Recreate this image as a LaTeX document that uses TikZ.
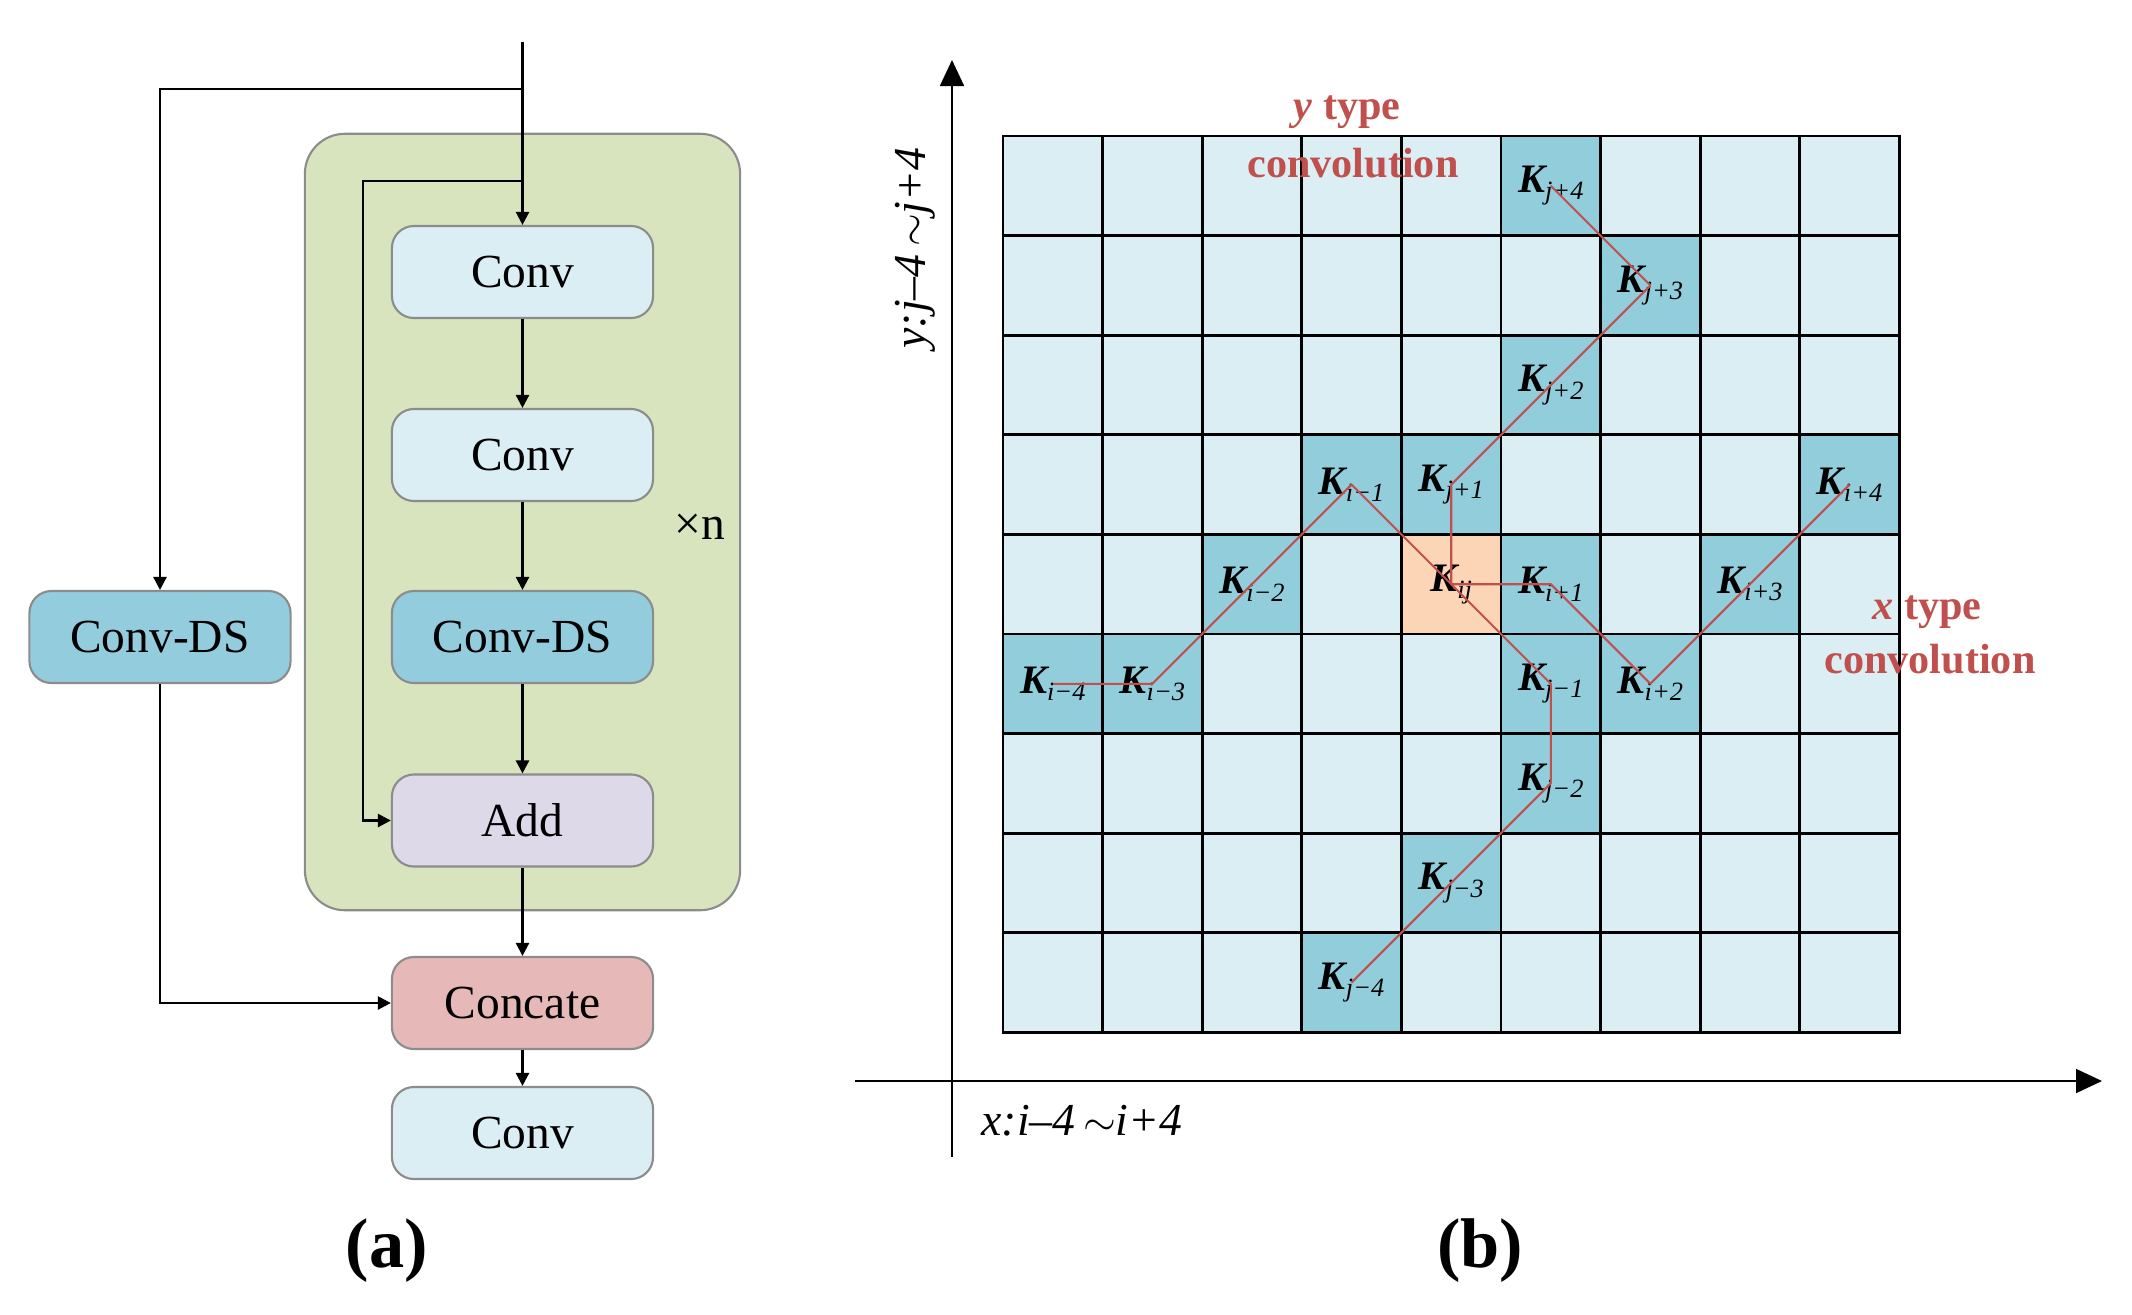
\documentclass[tikz,border=0pt]{standalone}
\usepackage{fontspec}
\setmainfont{Liberation Serif}
\usetikzlibrary{arrows.meta}
\definecolor{convL}{HTML}{DAEEF3}
\definecolor{convD}{HTML}{93CDDD}
\definecolor{addC}{HTML}{DDD9E9}
\definecolor{catC}{HTML}{E6B9B8}
\definecolor{grnC}{HTML}{D7E4BD}
\definecolor{bordC}{HTML}{8C8C8C}
\definecolor{cellL}{HTML}{DAEEF3}
\definecolor{cellD}{HTML}{92CDDC}
\definecolor{cellC}{HTML}{FBD5B5}
\definecolor{redC}{HTML}{C0504D}
\newcommand{\Kl}[1]{{\fontsize{11.5}{12}\selectfont\bfseries\itshape K}\raisebox{-0.45ex}{\fontsize{7.5}{8}\selectfont\itshape #1}}
\begin{document}
\begin{tikzpicture}[x=0.01cm,y=-0.01cm,
  blk/.style={draw=bordC, line width=0.6pt, rounded corners=0.22cm, minimum width=2.61cm, minimum height=0.92cm, inner sep=0pt, font=\fontsize{13.5}{14}\selectfont},
  grp/.style={draw=bordC, line width=0.6pt, fill=grnC, rounded corners=0.4cm, minimum width=4.35cm, minimum height=7.76cm, inner sep=0pt},
  arr/.style={line width=0.7pt, -{Triangle[length=0.13cm,width=0.13cm]}},
  axisl/.style={line width=0.5pt, -{Triangle[length=0.26cm,width=0.24cm]}},
  gridl/.style={line width=0.75pt, line cap=rect},
  redl/.style={draw=redC, line width=0.6pt, line join=round},
  redlbl/.style={text=redC, font=\fontsize{12}{12}\selectfont\bfseries, inner sep=0pt},
  klbl/.style={inner sep=0pt},
  axlbl/.style={font=\fontsize{13}{13}\selectfont\itshape, inner sep=0pt},
  captxt/.style={font=\fontsize{20}{20}\selectfont\bfseries, inner sep=0pt}]
\useasboundingbox (0,0) rectangle (2132,1314);

% ---------------- (a) ----------------
\node[grp] (group) at (522.5,522) {};
\node[blk, fill=convL] (c1) at (522.5,272) {Conv};
\node[blk, fill=convL] (c2) at (522.5,455) {Conv};
\node[blk, fill=convD] (cds) at (522.5,637) {Conv-DS};
\node[blk, fill=addC] (add) at (522.5,820.5) {Add};
\node[blk, fill=catC] (cat) at (522.5,1003) {Concate};
\node[blk, fill=convL] (c3) at (522.5,1133) {Conv};
\node[blk, fill=convD] (cdsL) at (160,637) {Conv-DS};
\node[font=\fontsize{13.5}{14}\selectfont, inner sep=0pt] (xn) at (700,527) {×n};

\coordinate (in) at (522.5,41.5);
\coordinate (b1) at (522.5,89);
\coordinate (b2) at (522.5,181);
\coordinate (t2) at (363,181);

\draw[arr] (in) -- (c1);
\draw[arr] (b1) -| (cdsL);
\draw[arr] (b2) -- (t2) |- (add);
\draw[arr] (c1) -- (c2);
\draw[arr] (c2) -- (cds);
\draw[arr] (cds) -- (add);
\draw[arr] (add) -- (cat);
\draw[arr] (cat) -- (c3);
\draw[arr] (cdsL) |- (cat);

\node[captxt] (capa) at (387,1251) {(a)};

% ---------------- (b) ----------------
\fill[cellL] (1003,136) rectangle (1899.4,1032.4);
\foreach \c/\r in {5/0,6/1,5/2,3/3,4/3,8/3,2/4,5/4,7/4,0/5,1/5,5/5,6/5,5/6,4/7,3/8}
  \fill[cellD] ({1003+99.6*\c},{136+99.6*\r}) rectangle +(99.6,99.6);
\fill[cellC] ({1003+99.6*4},{136+99.6*4}) rectangle +(99.6,99.6);
\foreach \k in {0,...,9}{
  \draw[gridl] ({1003+99.6*\k},136) -- ({1003+99.6*\k},1032.4);
  \draw[gridl] (1003,{136+99.6*\k}) -- (1899.4,{136+99.6*\k});
}
\foreach \c in {0,...,8}{\foreach \r in {0,...,8}{
  \coordinate (g-\c-\r) at ({1003+99.6*\c+49.8},{136+99.6*\r+49.8});
}}

\foreach \c/\r/\s in {5/0/{j+4},6/1/{j+3},5/2/{j+2},3/3/{i−1},4/3/{j+1},8/3/{i+4},2/4/{i−2},4/4/{ij},5/4/{i+1},7/4/{i+3},0/5/{i−4},1/5/{i−3},5/5/{j−1},6/5/{i+2},5/6/{j−2},4/7/{j−3},3/8/{j−4}}
  \node[klbl] (k-\c-\r) at (g-\c-\r) {\Kl{\s}};

\draw[redl] (g-5-0) -- (g-6-1) -- (g-5-2) -- (g-4-3) -- (g-4-4) -- (g-5-5) -- (g-5-6) -- (g-4-7) -- (g-3-8);
\draw[redl] (g-0-5) -- (g-1-5) -- (g-2-4) -- (g-3-3) -- (g-4-4) -- (g-5-4) -- (g-6-5) -- (g-7-4) -- (g-8-3);

\coordinate (yb) at (952,1156.5);
\coordinate (yt) at (952,60);
\coordinate (xl) at (855,1081);
\coordinate (xr) at (2102,1081);
\draw[axisl] (yb) -- (yt);
\draw[axisl] (xl) -- (xr);

\node[axlbl] (xlab) at (1082,1121) {x:i–4\,$\sim$i+4};
\node[axlbl, rotate=90] (ylab) at (915,248) {y:j–4\,$\sim$j+4};

\node[redlbl] (yt1) at (1347,112) {\textit{y} type};
\node[redlbl] (yt2) at (1353,163) {convolution};
\node[redlbl] (xt1) at (1927,612) {\textit{x} type};
\node[redlbl] (xt2) at (1930,659) {convolution};

\node[captxt] (capb) at (1480,1251) {(b)};
\end{tikzpicture}
\end{document}
